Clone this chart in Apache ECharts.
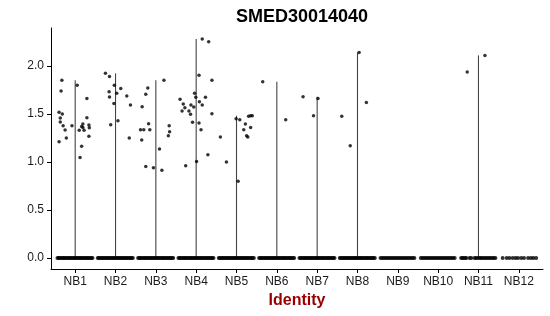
<!DOCTYPE html>
<html>
<head>
<meta charset="utf-8">
<script src="https://cdn.jsdelivr.net/npm/echarts@6/dist/echarts.min.js"></script>
<style>html,body{margin:0;padding:0;background:#fff}#c{width:550px;height:316px}</style>
</head>
<body>
<div id="c"></div>
<script>
const categories = ['NB1','NB2','NB3','NB4','NB5','NB6','NB7','NB8','NB9','NB10','NB11','NB12'];
const yTicks = [0, 0.5, 1, 1.5, 2];
const title = 'SMED30014040';
const xName = 'Identity';

// non-zero points: [jitter offset, value]
const nb1 = [[-0.33,1.85],[-0.35,1.74],[-0.40,1.517],[-0.32,1.50],[-0.37,1.458],[-0.37,1.417],[-0.30,1.378],[-0.25,1.333],[-0.08,1.378],[-0.40,1.211],[-0.22,1.25],[0.05,1.80],[0.29,1.66],[0.29,1.46],[0.19,1.395],[0.16,1.37],[0.19,1.36],[0.34,1.385],[0.35,1.357],[0.10,1.33],[0.22,1.33],[0.34,1.267],[0.16,1.163],[0.12,1.048]];
const nb2 = [[-0.25,1.923],[-0.15,1.889],[-0.03,1.798],[-0.16,1.732],[0.03,1.715],[0.13,1.764],[-0.15,1.677],[-0.04,1.61],[0.28,1.687],[0.37,1.594],[-0.12,1.389],[0.06,1.43],[0.34,1.25]];
const nb3 = [[-0.20,1.771],[-0.25,1.704],[-0.34,1.576],[-0.18,1.399],[-0.38,1.336],[-0.30,1.336],[-0.15,1.336],[-0.35,1.229],[-0.25,0.954],[-0.06,0.94],[0.09,1.135],[0.15,0.913],[0.20,1.85],[0.33,1.378],[0.34,1.316],[0.31,1.273]];
const nb4 = [[0.15,2.281],[0.31,2.253],[0.07,1.902],[0.39,1.85],[-0.04,1.715],[-0.01,1.673],[0.23,1.673],[-0.40,1.652],[0.08,1.628],[-0.32,1.604],[-0.13,1.594],[-0.06,1.573],[0.15,1.594],[-0.28,1.566],[-0.35,1.531],[-0.18,1.531],[-0.14,1.496],[0.39,1.503],[-0.09,1.413],[0.07,1.406],[0.12,1.336],[0.29,1.076],[0.01,1.006],[-0.26,0.961]];
const nb5 = [[-0.40,1.26],[-0.25,1.0],[0.04,0.80],[-0.01,1.451],[0.08,1.44],[0.30,1.475],[0.35,1.482],[0.39,1.482],[0.22,1.396],[0.35,1.36],[0.18,1.336],[0.25,1.274],[0.28,1.26]];
const nb6 = [[-0.35,1.836],[0.22,1.44]];
const nb7 = [[-0.35,1.68],[0.02,1.66],[-0.09,1.482]];
const nb8 = [[-0.39,1.475],[-0.18,1.17],[0.04,2.14],[0.22,1.62]];
const nb9 = [];
const nb10 = [];
const nb11 = [[0.16,2.11],[-0.28,1.937]];
const nb12 = [];
const points = [nb1,nb2,nb3,nb4,nb5,nb6,nb7,nb8,nb9,nb10,nb11,nb12];

// jitter offsets of the zero-valued cells
const zeroDense = [-0.44,-0.41,-0.38,-0.35,-0.32,-0.29,-0.26,-0.23,-0.20,-0.17,-0.14,-0.11,-0.08,-0.05,-0.02,0.01,0.04,0.07,0.10,0.13,0.16,0.19,0.22,0.25,0.28,0.31,0.34,0.37,0.40,0.43];
const zeroMid = [-0.43,-0.39,-0.35,-0.31,-0.27,-0.23,-0.19,-0.15,-0.11,-0.07,-0.03,0.01,0.05,0.09,0.13,0.17,0.21,0.25,0.29,0.33,0.37,0.41];
const zeroNB11 = [-0.43,-0.40,-0.37,-0.33,-0.30,-0.22,-0.18,-0.10,-0.06,-0.02,0.03,0.06,0.10,0.14,0.18,0.22,0.26,0.30,0.34,0.38,0.42];
const zeroNB12 = [-0.40,-0.30,-0.23,-0.15,-0.08,-0.02,0.06,0.13,0.23,0.30,0.36,0.43];
const zeros = [zeroDense,zeroDense,zeroDense,zeroDense,zeroDense,zeroDense,zeroDense,zeroDense,zeroMid,zeroMid,zeroNB11,zeroNB12];

const FONT = '"Liberation Sans", Arial, Helvetica, sans-serif';

const scatterData = [];
const zeroData = [];
const violinData = [];
points.forEach((arr, i) => {
  const x = i + 1;
  arr.forEach(p => scatterData.push([x + p[0], p[1]]));
  zeros[i].forEach(o => zeroData.push([x + o, 0]));
  if (arr.length) violinData.push([x, Math.max.apply(null, arr.map(p => p[1]))]);
});

const xTicks = categories.map((c, i) => i + 1);

const chart = echarts.init(document.getElementById('c'), null, {renderer: 'canvas'});
chart.setOption({
  animation: false,
  backgroundColor: '#fff',
  title: {
    text: title, left: 297, top: 3, textAlign: 'center',
    textStyle: {fontFamily: FONT, fontSize: 18, fontWeight: 'bold', color: '#000'}
  },
  grid: {left: 51, right: 7, top: 28, bottom: 47, containLabel: false},
  xAxis: {
    type: 'value', min: 0.4, max: 12.6,
    name: xName, nameLocation: 'middle', nameGap: 23,
    nameTextStyle: {fontFamily: FONT, fontSize: 16, fontWeight: 'bold', color: '#960000'},
    axisLine: {show: true, onZero: false, lineStyle: {color: '#000', width: 1}},
    axisTick: {show: true, length: 4, customValues: xTicks, lineStyle: {color: '#000'}},
    axisLabel: {customValues: xTicks, margin: 7, fontFamily: FONT, fontSize: 12, color: '#1a1a1a',
      formatter: v => categories[Math.round(v) - 1] || ''},
    splitLine: {show: false}
  },
  yAxis: {
    type: 'value', min: -0.114, max: 2.395,
    axisLine: {show: true, onZero: false, lineStyle: {color: '#000', width: 1}},
    axisTick: {show: true, length: 4, customValues: yTicks, lineStyle: {color: '#000'}},
    axisLabel: {customValues: yTicks, margin: 7, fontFamily: FONT, fontSize: 12, color: '#1a1a1a',
      formatter: v => v.toFixed(1)},
    splitLine: {show: false}
  },
  series: [
    {
      type: 'custom',
      data: violinData,
      z: 1,
      renderItem: (params, api) => {
        const a = api.coord([api.value(0), 0]);
        const b = api.coord([api.value(0), api.value(1)]);
        return {type: 'line', shape: {x1: a[0], y1: a[1], x2: b[0], y2: b[1]},
          style: {stroke: '#444', lineWidth: 1.1}};
      }
    },
    {type: 'scatter', data: zeroData, symbolSize: 4, itemStyle: {color: '#000'}, z: 3, silent: true},
    {type: 'scatter', data: scatterData, symbolSize: 3.5, itemStyle: {color: '#000'}, z: 3, silent: true}
  ]
});
</script>
</body>
</html>
